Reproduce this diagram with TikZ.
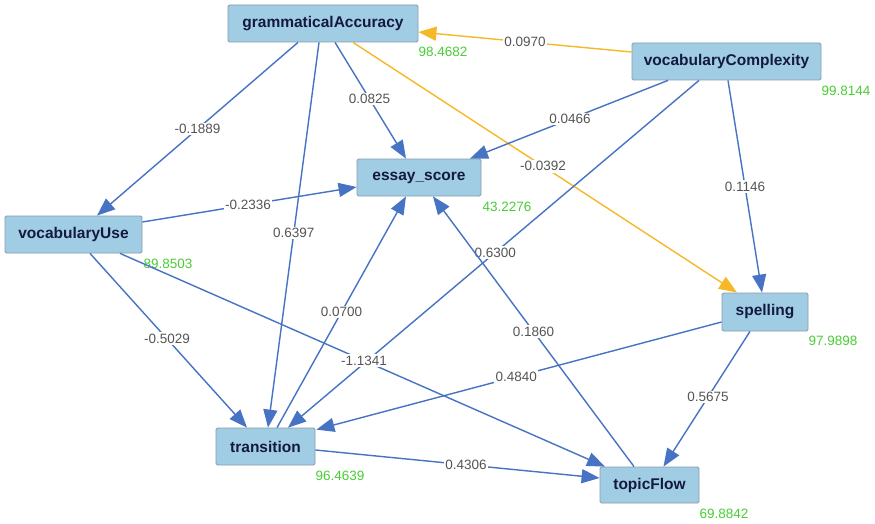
\documentclass[tikz,border=0pt]{standalone}
\usepackage{fontspec}
\setmainfont{Liberation Sans}
\usetikzlibrary{arrows.meta,calc}
\definecolor{boxfill}{RGB}{160,205,228}
\definecolor{boxline}{RGB}{135,155,170}
\definecolor{boxtext}{RGB}{20,25,65}
\definecolor{edgeblue}{RGB}{70,115,195}
\definecolor{edgeorange}{RGB}{245,185,40}
\definecolor{lblgray}{RGB}{85,85,85}
\definecolor{lblgreen}{RGB}{75,205,55}
\begin{document}
\begin{tikzpicture}[x=1pt,y=-1pt,
  var/.style={draw=boxline, fill=boxfill, rounded corners=1.5pt, line width=0.8pt,
    minimum height=37pt, inner sep=0pt, text=boxtext,
    font=\fontsize{15.5}{18}\selectfont\bfseries},
  lbl/.style={fill=white, inner sep=1.5pt, text=lblgray, font=\fontsize{13.5}{15}\selectfont},
  val/.style={inner sep=0pt, text=lblgreen, font=\fontsize{13.5}{15}\selectfont},
  blu/.style={draw=edgeblue, line width=1.4pt, -{Triangle[length=18pt,width=14pt]}},
  org/.style={draw=edgeorange, line width=1.4pt, -{Triangle[length=18pt,width=14pt]}}
]
\useasboundingbox[fill=white] (0,0) rectangle (875,524);

% nodes
\node[var, minimum width=190pt] (ga) at (323,23.5) {grammaticalAccuracy};
\node[var, minimum width=189pt] (vc) at (726.5,61.5) {vocabularyComplexity};
\node[var, minimum width=137pt] (vu) at (73.5,234.5) {vocabularyUse};
\node[var, minimum width=124pt] (es) at (419,177.5) {essay\_score};
\node[var, minimum width=86pt, minimum height=38pt] (sp) at (765,312) {spelling};
\node[var, minimum width=99pt] (tr) at (265.5,446.5) {transition};
\node[var, minimum width=99pt, minimum height=36pt] (tf) at (649.5,485) {topicFlow};

% values
\node[val] (gav) at (443,52) {98.4682};
\node[val] (vcv) at (846,91) {99.8144};
\node[val] (vuv) at (168,264) {89.8503};
\node[val] (esv) at (507,207) {43.2276};
\node[val] (spv) at (833,341) {97.9898};
\node[val] (trv) at (340,476) {96.4639};
\node[val] (tfv) at (724,514) {69.8842};

% edges
\draw[org] ($(vc.west)+(0,-9.5)$) -- node[lbl,pos=0.5]{0.0970} ($(ga.east)+(0,8.5)$);
\draw[org] ($(ga.south)+(30,0)$) -- node[lbl,pos=0.495]{-0.0392} ($(sp.north)+(-28,0)$);
\draw[blu] ($(ga.south)+(-25,0)$) -- node[lbl,pos=0.5]{-0.1889} ($(vu.north)+(23.5,0)$);
\draw[blu] ($(ga.south)+(12,0)$) -- node[lbl,pos=0.487]{0.0825} ($(es.north)+(-13,0)$);
\draw[blu] ($(ga.south)+(-4,0)$) -- node[lbl,pos=0.495]{0.6397} ($(tr.north)+(2.5,0)$);
\draw[blu] ($(vc.south)+(-58.5,0)$) -- node[lbl,pos=0.495]{0.0466} ($(es.north)+(51,0)$);
\draw[blu] ($(vc.south)+(-27.5,0)$) -- node[lbl,pos=0.496]{0.6300} ($(tr.north)+(22.5,0)$);
\draw[blu] ($(vc.south)+(1.5,0)$) -- node[lbl,pos=0.5]{0.1146} ($(sp.north)+(-3,0)$);
\draw[blu] ($(vu.east)+(0,-12.5)$) -- node[lbl,pos=0.493]{-0.2336} ($(es.west)+(0,9.5)$);
\draw[blu] ($(vu.south)+(16.5,0)$) -- node[lbl,pos=0.49]{-0.5029} ($(tr.north)+(-18.5,0)$);
\draw[blu] ($(vu.south)+(46.5,0)$) -- node[lbl,pos=0.503]{-1.1341} ($(tf.north)+(-44.5,0)$);
\draw[blu] ($(tr.north)+(11.5,0)$) -- node[lbl,pos=0.5]{0.0700} ($(es.south)+(-13,0)$);
\draw[blu] ($(tf.north)+(-15.5,0)$) -- node[lbl,pos=0.5]{0.1860} ($(es.south)+(14,0)$);
\draw[blu] ($(sp.west)+(0,10)$) -- node[lbl,pos=0.507]{0.4840} ($(tr.north east)+(1,2)$);
\draw[blu] ($(sp.south)+(-15,0)$) -- node[lbl,pos=0.485]{0.5675} ($(tf.north)+(14,0)$);
\draw[blu] ($(tr.east)+(0,3.5)$) -- node[lbl,pos=0.53]{0.4306} ($(tf.west)+(0,-7)$);
\end{tikzpicture}
\end{document}
